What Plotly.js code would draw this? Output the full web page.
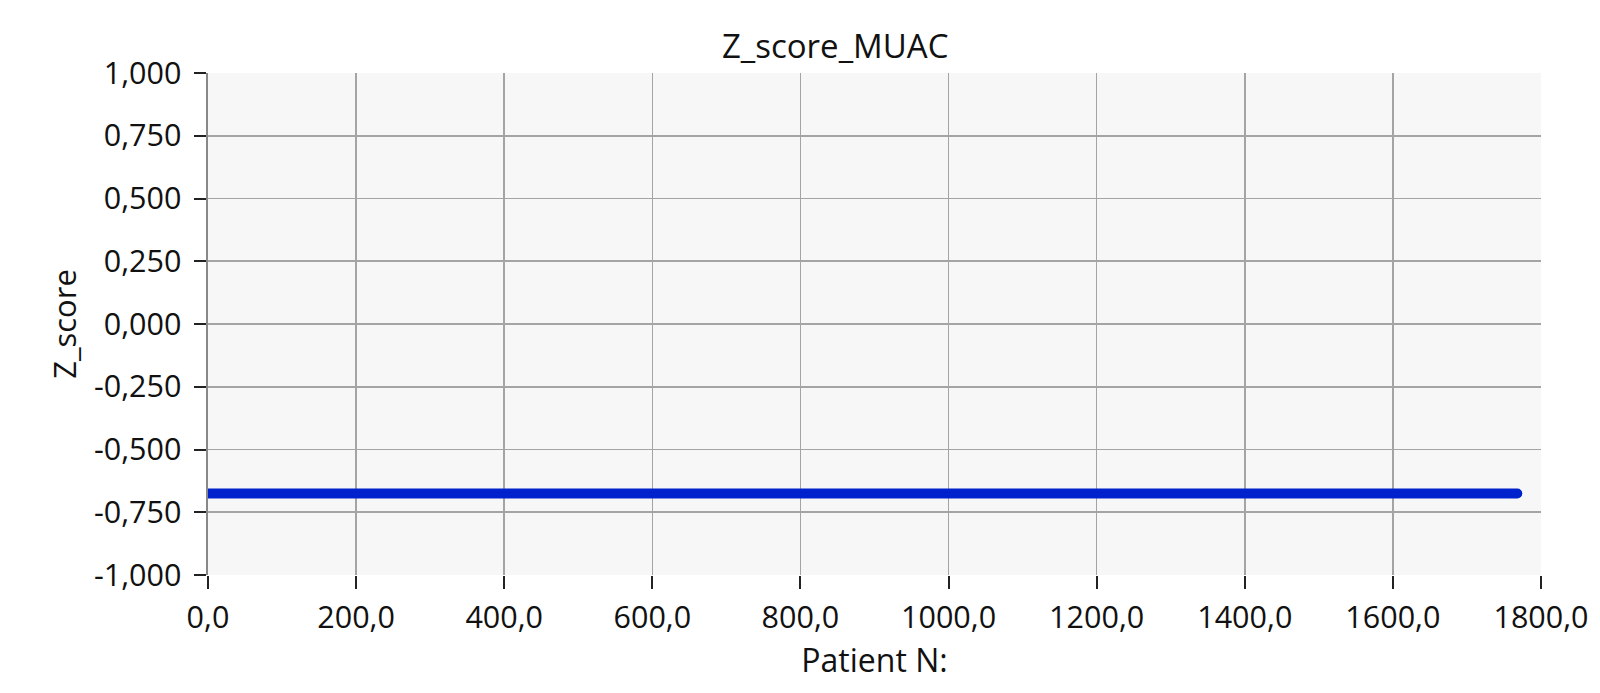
<!DOCTYPE html>
<html>
<head>
<meta charset="utf-8">
<script src="https://cdn.plot.ly/plotly-3.0.1.min.js"></script>
<style>
html,body{margin:0;padding:0;background:#fff;}
#chart{width:1600px;height:693px;}
.scatterlayer .js-line{stroke-linecap:round;}
</style>
</head>
<body>
<div id="chart"></div>
<script>
// Data
var chartTitle = "Z_score_MUAC";
var xAxisTitle = "Patient N:";
var yAxisTitle = "Z_score";
var patientN = [0, 1768];          // first and last patient index of the series
var zScoreMUAC = [-0.675, -0.675]; // constant Z score across all patients

var xTickVals = [0, 200, 400, 600, 800, 1000, 1200, 1400, 1600, 1800];
var xTickText = ["0,0", "200,0", "400,0", "600,0", "800,0", "1000,0", "1200,0", "1400,0", "1600,0", "1800,0"];
var yTickVals = [-1, -0.75, -0.5, -0.25, 0, 0.25, 0.5, 0.75, 1];
var yTickText = ["-1,000", "-0,750", "-0,500", "-0,250", "0,000", "0,250", "0,500", "0,750", "1,000"];

var fontFamily = '"Open Sans", "Noto Sans", sans-serif';

var trace = {
  x: patientN,
  y: zScoreMUAC,
  type: 'scatter',
  mode: 'lines',
  line: {color: '#0022cc', width: 10},
  hoverinfo: 'x+y'
};

var layout = {
  width: 1600,
  height: 693,
  paper_bgcolor: '#ffffff',
  plot_bgcolor: '#f7f7f7',
  font: {family: fontFamily, size: 30, color: '#111111'},
  showlegend: false,
  margin: {l: 208, r: 59, t: 73, b: 118, pad: 0},
  title: {
    text: chartTitle,
    font: {family: fontFamily, size: 33, color: '#111111'},
    x: 0.522, xanchor: 'center',
    y: 1 - 46 / 693, yanchor: 'middle', yref: 'container'
  },
  xaxis: {
    range: [0, 1800],
    tickmode: 'array',
    tickvals: xTickVals,
    ticktext: xTickText,
    ticks: 'outside',
    ticklen: 13,
    tickwidth: 2,
    tickcolor: '#222222',
    ticklabelstandoff: 2,
    tickfont: {size: 30.5},
    showgrid: true,
    gridcolor: '#a4a4a4',
    gridwidth: 1.6,
    zeroline: false,
    showline: false,
    title: {text: xAxisTitle, font: {family: fontFamily, size: 32, color: '#111111'}, standoff: 14},
    automargin: false
  },
  yaxis: {
    range: [-1, 1],
    tickmode: 'array',
    tickvals: yTickVals,
    ticktext: yTickText,
    ticks: 'outside',
    ticklen: 12,
    tickwidth: 2,
    tickcolor: '#222222',
    ticklabelstandoff: 6,
    tickfont: {size: 30.5},
    showgrid: true,
    gridcolor: '#a4a4a4',
    gridwidth: 1.6,
    zeroline: false,
    showline: true,
    linecolor: '#888888',
    linewidth: 2.5,
    title: {text: yAxisTitle, font: {family: fontFamily, size: 31, color: '#111111'}, standoff: 8},
    automargin: false
  }
};

Plotly.newPlot('chart', [trace], layout, {displayModeBar: false, staticPlot: true});
</script>
</body>
</html>
